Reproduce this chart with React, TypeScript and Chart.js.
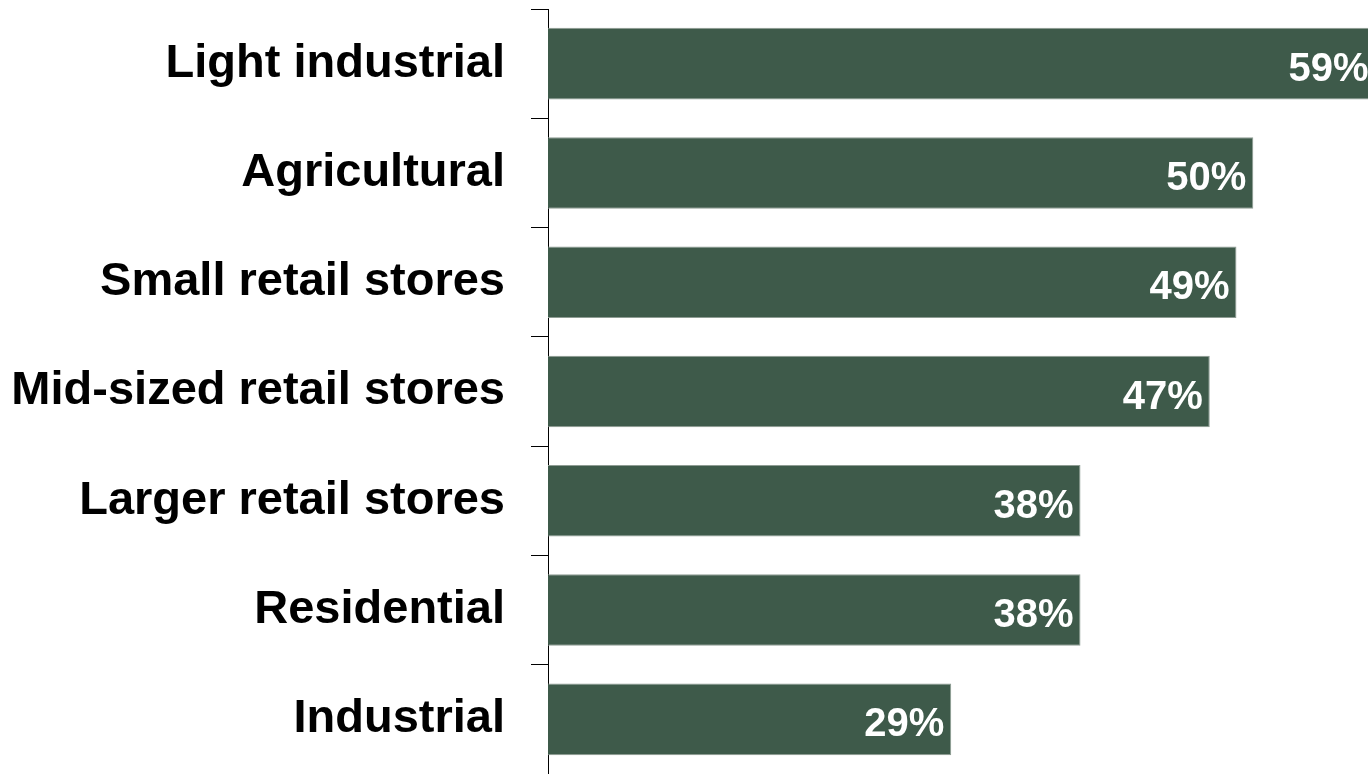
import React, { useEffect, useRef } from "react";
import { Chart, registerables } from "chart.js";

Chart.register(...registerables);

const categories: string[] = [
  "Light industrial",
  "Agricultural",
  "Small retail stores",
  "Mid-sized retail stores",
  "Larger retail stores",
  "Residential",
  "Industrial",
];

const shares: number[] = [58.9, 50.2, 49.0, 47.1, 37.9, 37.9, 28.7];

const FONT = '"Liberation Sans", Arial, Helvetica, sans-serif';
const BAR_COLOR = "#3E5A4A";

const valueLabelPlugin = {
  id: "valueLabels",
  afterDatasetsDraw(chart: any) {
    const { ctx } = chart;
    const meta = chart.getDatasetMeta(0);
    ctx.save();
    ctx.font = `bold 40px ${FONT}`;
    ctx.fillStyle = "#ffffff";
    ctx.textAlign = "right";
    ctx.textBaseline = "alphabetic";
    meta.data.forEach((bar: any, i: number) => {
      const v = shares[i];
      const text = `${Math.round(v)}%`;
      ctx.fillText(text, bar.x - 7, bar.y + 17);
    });
    ctx.restore();
  },
};

export default function App() {
  const ref = useRef<HTMLCanvasElement | null>(null);

  useEffect(() => {
    document.body.style.margin = "0";
    const canvas = ref.current;
    if (!canvas) return;
    const chart = new Chart(canvas, {
      type: "bar",
      data: {
        labels: categories,
        datasets: [
          {
            data: shares,
            backgroundColor: BAR_COLOR,
            borderColor: "#8E9C93",
            borderWidth: 1,
            borderSkipped: "left",
            barPercentage: 0.655,
            categoryPercentage: 1,
          },
        ],
      },
      options: {
        indexAxis: "y",
        animation: false,
        responsive: false,
        maintainAspectRatio: false,
        devicePixelRatio: 1,
        layout: { padding: { top: 9, bottom: 0, left: 0, right: 0 } },
        plugins: {
          legend: { display: false },
          tooltip: { enabled: false },
        },
        scales: {
          x: {
            display: false,
            min: 0,
            max: 60,
          },
          y: {
            offset: true,
            afterFit: (scale: any) => {
              scale.width = 548;
              scale.paddingTop = 0;
              scale.paddingBottom = 0;
            },
            border: { display: true, color: "#000000", width: 1 },
            grid: {
              offset: true,
              drawOnChartArea: false,
              drawTicks: true,
              tickLength: 17,
              color: "#000000",
              lineWidth: 1,
            },
            ticks: {
              color: "#000000",
              padding: 26,
              font: { family: FONT, size: 47, weight: "bold" },
            },
          },
        },
      },
      plugins: [valueLabelPlugin],
    });
    return () => chart.destroy();
  }, []);

  return (
    <div
      style={{
        position: "fixed",
        left: 0,
        top: 0,
        width: 1368,
        height: 774,
        overflow: "hidden",
        background: "#ffffff",
      }}
    >
      <canvas ref={ref} width={1391} height={774} style={{ display: "block" }} />
    </div>
  );
}
